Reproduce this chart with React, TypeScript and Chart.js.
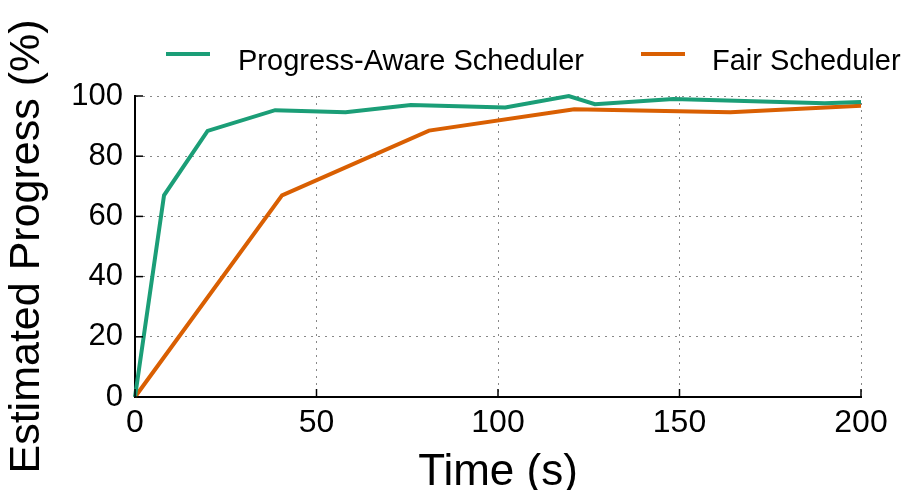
import { useEffect, useRef } from "react";
import { Chart, registerables } from "chart.js";

Chart.register(...registerables);

// Time stamps (s) and estimated progress (%) for each scheduler
const awareTime = [0, 8, 20, 38.6, 58, 76, 102, 119.5, 126.7, 148.3, 190, 200];
const awareProgress = [0, 67, 88.4, 95.3, 94.6, 97, 96.2, 100, 97.3, 99, 97.6, 98];
const fairTime = [0, 40.5, 81, 121, 164, 200];
const fairProgress = [0, 67, 88.5, 95.6, 94.6, 96.8];

const seriesNames = ["Progress-Aware Scheduler", "Fair Scheduler"];
const seriesColors = ["#1b9e77", "#d95f02"];
const xTitle = "Time (s)";
const yTitle = "Estimated Progress (%)";

const FONT = "'Liberation Sans', Arial, sans-serif";

const toPoints = (xs: number[], ys: number[]) => xs.map((x, i) => ({ x, y: ys[i] }));

// Inward tick marks on the left and bottom axes
const innerTicks = {
  id: "innerTicks",
  afterDatasetsDraw(chart: any) {
    const { ctx, chartArea, scales } = chart;
    ctx.save();
    ctx.strokeStyle = "#000";
    ctx.lineWidth = 1.5;
    const len = 8;
    scales.y.ticks.forEach((t: any) => {
      const py = scales.y.getPixelForValue(t.value);
      ctx.beginPath();
      ctx.moveTo(chartArea.left, py);
      ctx.lineTo(chartArea.left + len, py);
      ctx.stroke();
    });
    scales.x.ticks.forEach((t: any) => {
      const px = scales.x.getPixelForValue(t.value);
      ctx.beginPath();
      ctx.moveTo(px, chartArea.bottom);
      ctx.lineTo(px, chartArea.bottom - len);
      ctx.stroke();
    });
    ctx.restore();
  },
};

// Legend row across the top
const topLegend = {
  id: "topLegend",
  afterDraw(chart: any) {
    const { ctx } = chart;
    const entries = [
      { lineX: 166, textX: 238 },
      { lineX: 641, textX: 712 },
    ];
    ctx.save();
    ctx.font = `29px ${FONT}`;
    ctx.textBaseline = "alphabetic";
    ctx.textAlign = "left";
    entries.forEach((e, i) => {
      ctx.strokeStyle = seriesColors[i];
      ctx.lineWidth = 4;
      ctx.beginPath();
      ctx.moveTo(e.lineX, 54);
      ctx.lineTo(e.lineX + 44, 54);
      ctx.stroke();
      ctx.fillStyle = "#000";
      ctx.fillText(seriesNames[i], e.textX, 70);
    });
    ctx.restore();
  },
};

export default function App() {
  const ref = useRef<HTMLCanvasElement | null>(null);

  useEffect(() => {
    if (!ref.current) return;
    const chart = new Chart(ref.current, {
      type: "line",
      data: {
        datasets: [
          {
            label: seriesNames[0],
            data: toPoints(awareTime, awareProgress),
            borderColor: seriesColors[0],
            backgroundColor: seriesColors[0],
            borderWidth: 4,
            pointRadius: 0,
            tension: 0,
            clip: false as any,
          },
          {
            label: seriesNames[1],
            data: toPoints(fairTime, fairProgress),
            borderColor: seriesColors[1],
            backgroundColor: seriesColors[1],
            borderWidth: 4,
            pointRadius: 0,
            tension: 0,
            clip: false as any,
          },
        ],
      },
      options: {
        responsive: false,
        animation: false,
        events: [],
        layout: { padding: { left: 0, right: 42, top: 96, bottom: 0 } },
        plugins: { legend: { display: false }, tooltip: { enabled: false } },
        scales: {
          x: {
            type: "linear",
            min: 0,
            max: 200,
            afterFit: (s: any) => {
              s.height = 93;
            },
            ticks: {
              stepSize: 50,
              color: "#000",
              padding: 7,
              font: { family: FONT, size: 32 },
            },
            grid: {
              drawTicks: false,
              color: "#888",
              lineWidth: 1,
            },
            border: { display: true, color: "#000", width: 2, dash: [2, 5] } as any,
            title: {
              display: true,
              text: xTitle,
              color: "#000",
              font: { family: FONT, size: 44, lineHeight: 0.7 },
              padding: { top: 0, bottom: 2 },
            },
          },
          y: {
            min: 0,
            max: 100,
            afterFit: (s: any) => {
              s.width = 135;
            },
            ticks: {
              stepSize: 20,
              color: "#000",
              padding: 12,
              font: { family: FONT, size: 31 },
            },
            grid: {
              drawTicks: false,
              color: "#888",
              lineWidth: 1,
            },
            border: { display: true, color: "#000", width: 2, dash: [2, 5] } as any,
            title: {
              display: true,
              text: yTitle,
              color: "#000",
              font: { family: FONT, size: 43, lineHeight: 1.2 },
              padding: { top: 1, bottom: 0 },
            },
          },
        },
      },
      plugins: [innerTicks, topLegend],
    });
    return () => chart.destroy();
  }, []);

  return (
    <div style={{ position: "fixed", left: 0, top: 0, width: 903, height: 490, background: "#fff" }}>
      <canvas ref={ref} width={903} height={490} />
    </div>
  );
}
